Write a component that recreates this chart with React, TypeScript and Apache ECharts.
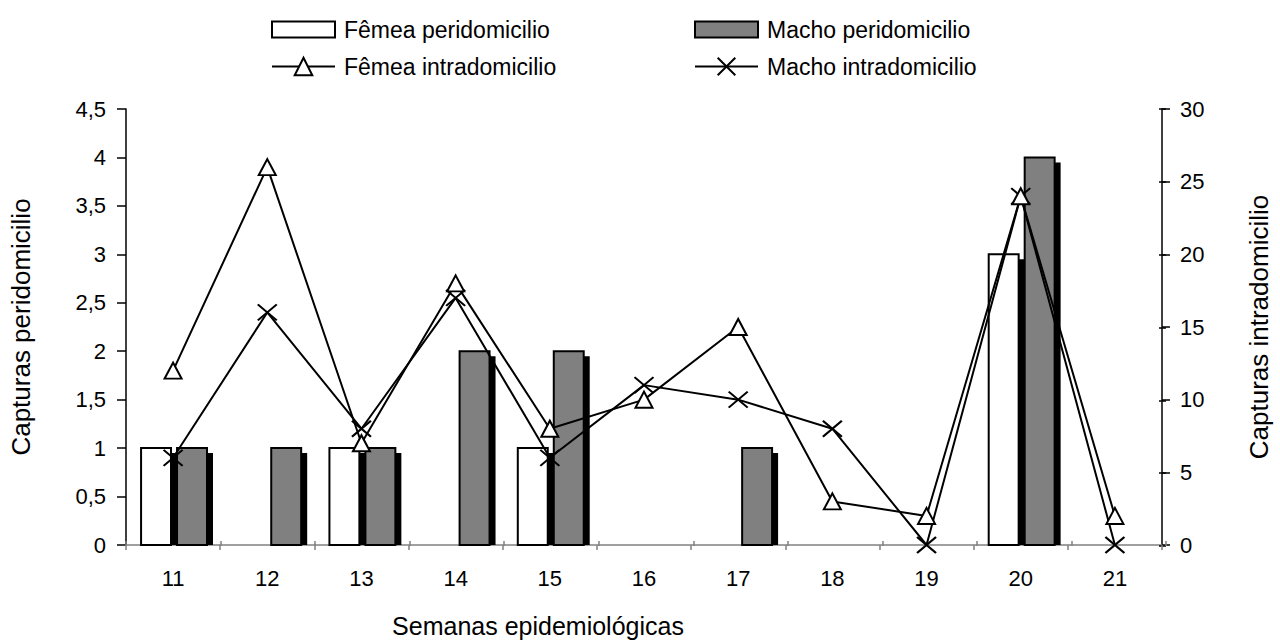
import React, { useEffect, useRef } from 'react';
import * as echarts from 'echarts';

const weeks = ['11', '12', '13', '14', '15', '16', '17', '18', '19', '20', '21'];
const femeaPeri = [1, 0, 1, 0, 1, 0, 0, 0, 0, 3, 0];
const machoPeri = [1, 1, 1, 2, 2, 0, 1, 0, 0, 4, 0];
const femeaIntra = [12, 26, 7, 18, 8, 10, 15, 3, 2, 24, 2];
const machoIntra = [6, 16, 8, 17, 6, 11, 10, 8, 0, 24, 0];

const leftAxis = { min: 0, max: 4.5, interval: 0.5 };
const rightAxis = { min: 0, max: 30, interval: 5 };

const FONT = 'Arial, "Liberation Sans", sans-serif';
const CROSS = 'path://M0,0L20,16M0,16L20,0';

function barRenderer(fill: string, offsetFrac: number) {
  return (_params: any, api: any) => {
    const v = api.value(1);
    if (!v) return null;
    const idx = api.value(0);
    const top = api.coord([idx, v]);
    const base = api.coord([idx, 0]);
    const band = api.size([1, 0])[0];
    const w = band * 0.318;
    const x = top[0] + band * offsetFrac;
    const h = base[1] - top[1];
    return {
      type: 'group',
      children: [
        {
          type: 'rect',
          shape: { x: x + 6, y: top[1] + 5, width: w, height: h - 5 },
          style: { fill: '#000' },
        },
        {
          type: 'rect',
          shape: { x, y: top[1], width: w, height: h },
          style: { fill, stroke: '#000', lineWidth: 2 },
        },
      ],
    };
  };
}

export default function App() {
  const ref = useRef<HTMLDivElement>(null);
  useEffect(() => {
    if (!ref.current) return;
    const chart = echarts.init(ref.current, null, { renderer: 'svg' });
    const grid = { left: 126, right: 114, top: 109, bottom: 97 };
    const legendText = { fontSize: 23, color: '#000', fontFamily: FONT, padding: [0, 0, 0, 4] };
    const mkLegend = (name: string, left: number, top: number, h: number, extra: any = {}) => ({
      left,
      top,
      padding: 0,
      itemWidth: 63,
      itemHeight: h,
      textStyle: legendText,
      selectedMode: false,
      data: [{ name, ...extra }],
    });
    chart.setOption({
      animation: false,
      backgroundColor: '#fff',
      legend: [
        mkLegend('Fêmea peridomicilio', 271, 18, 16, {
          icon: 'rect',
          itemStyle: { color: '#fff', borderColor: '#000', borderWidth: 2 },
        }),
        mkLegend('Macho peridomicilio', 694, 18, 16, {
          icon: 'rect',
          itemStyle: { color: '#808080', borderColor: '#000', borderWidth: 2 },
        }),
        mkLegend('Fêmea intradomicilio', 271, 55, 22),
        mkLegend('Macho intradomicilio', 694, 55, 22),
      ],
      grid: [grid, grid],
      xAxis: [
        {
          type: 'category',
          data: weeks,
          gridIndex: 0,
          boundaryGap: true,
          name: 'Semanas epidemiológicas',
          nameLocation: 'middle',
          nameGap: 68,
          nameTextStyle: { fontSize: 25, color: '#000', fontFamily: FONT, padding: [0, 212, 0, 0] },
          axisLine: { lineStyle: { color: '#808080', width: 1.5 } },
          axisTick: { show: true, length: 5, lineStyle: { color: '#808080', width: 1.5 } },
          axisLabel: { fontSize: 22, color: '#000', fontFamily: FONT, margin: 22 },
          splitLine: { show: false },
        },
        {
          type: 'category',
          data: weeks,
          gridIndex: 1,
          boundaryGap: true,
          axisLine: { show: false },
          axisTick: { show: true, inside: true, length: 5, lineStyle: { color: '#808080', width: 1.5 } },
          axisLabel: { show: false },
          splitLine: { show: false },
        },
      ],
      yAxis: [
        {
          type: 'value',
          gridIndex: 0,
          position: 'left',
          ...leftAxis,
          name: 'Capturas peridomicilio',
          nameLocation: 'middle',
          nameGap: 92,
          nameTextStyle: { fontSize: 26, color: '#000', fontFamily: FONT },
          axisLine: { show: true, lineStyle: { color: '#000', width: 1.5 } },
          axisTick: { show: true, length: 9, lineStyle: { color: '#000', width: 1.5 } },
          axisLabel: {
            fontSize: 22,
            color: '#000',
            fontFamily: FONT,
            margin: 20,
            formatter: (v: number) => String(v).replace('.', ','),
          },
          splitLine: { show: false },
        },
        {
          type: 'value',
          gridIndex: 0,
          position: 'right',
          ...rightAxis,
          name: 'Capturas intradomicilio',
          nameLocation: 'middle',
          nameGap: 84,
          nameTextStyle: { fontSize: 26, color: '#000', fontFamily: FONT },
          axisLine: { show: true, lineStyle: { color: '#000', width: 1.5 } },
          axisTick: { show: true, length: 8, lineStyle: { color: '#000', width: 1.5 } },
          axisLabel: { fontSize: 22, color: '#000', fontFamily: FONT, margin: 18 },
          splitLine: { show: false },
        },
        {
          type: 'value',
          gridIndex: 1,
          position: 'right',
          ...rightAxis,
          axisLine: { show: false },
          axisTick: { show: true, inside: true, length: 7, lineStyle: { color: '#000', width: 1.5 } },
          axisLabel: { show: false },
          splitLine: { show: false },
        },
      ],
      series: [
        {
          name: 'Fêmea peridomicilio',
          type: 'custom',
          xAxisIndex: 0,
          yAxisIndex: 0,
          itemStyle: { color: '#fff', borderColor: '#000', borderWidth: 2 },
          encode: { x: 0, y: 1 },
          data: femeaPeri.map((v, i) => [i, v]),
          renderItem: barRenderer('#fff', -0.34),
          z: 2,
        },
        {
          name: 'Macho peridomicilio',
          type: 'custom',
          xAxisIndex: 0,
          yAxisIndex: 0,
          itemStyle: { color: '#808080', borderColor: '#000', borderWidth: 2 },
          encode: { x: 0, y: 1 },
          data: machoPeri.map((v, i) => [i, v]),
          renderItem: barRenderer('#808080', 0.042),
          z: 3,
        },
        {
          name: 'Macho intradomicilio',
          type: 'line',
          xAxisIndex: 0,
          yAxisIndex: 1,
          data: machoIntra,
          symbol: CROSS,
          symbolSize: [19, 16],
          showAllSymbol: true,
          lineStyle: { color: '#000', width: 2 },
          itemStyle: { color: '#000', borderColor: '#000', borderWidth: 2 },
          z: 4,
        },
        {
          name: 'Fêmea intradomicilio',
          type: 'line',
          xAxisIndex: 0,
          yAxisIndex: 1,
          data: femeaIntra,
          symbol: 'triangle',
          symbolSize: [17, 16],
          showAllSymbol: true,
          lineStyle: { color: '#000', width: 2 },
          itemStyle: { color: '#fff', borderColor: '#000', borderWidth: 2 },
          z: 5,
        },
      ],
    });
    return () => chart.dispose();
  }, []);
  return (
    <div
      ref={ref}
      style={{ position: 'fixed', left: 0, top: 0, width: 1280, height: 643, background: '#fff' }}
    />
  );
}
